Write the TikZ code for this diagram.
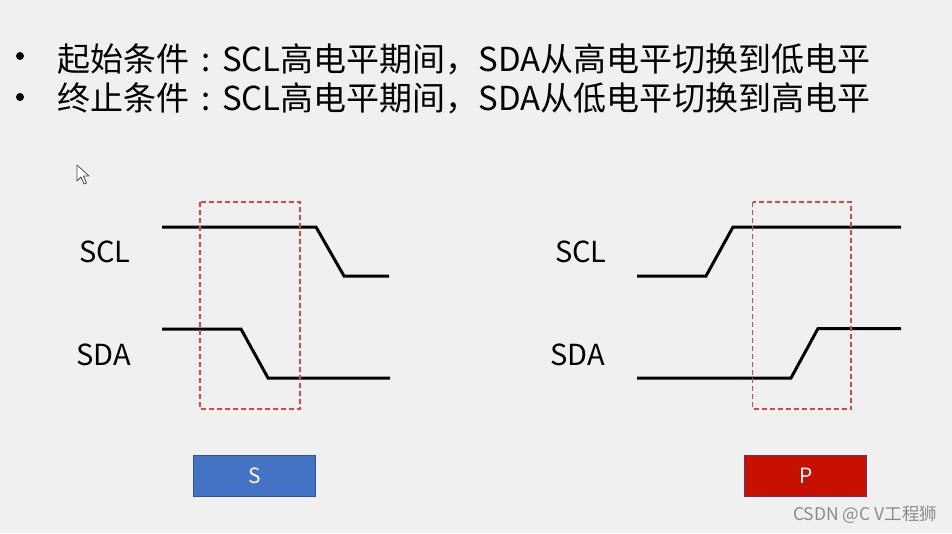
\documentclass[tikz,border=0pt]{standalone}
\usepackage{fontspec}
\setmainfont{Noto Sans CJK SC}
\usepackage{xcolor}
\usepackage{tikz}
\definecolor{bggray}{HTML}{F0F0F0}
\definecolor{sblue}{HTML}{4472C4}
\definecolor{sborder}{HTML}{2F5597}
\definecolor{pred}{HTML}{C81000}
\definecolor{pborder}{HTML}{6E3070}
\definecolor{boxred}{HTML}{E04545}
\newcommand{\midcolon}{\makebox[1em]{:}}
\tikzset{wave/.style={line width=3pt,line join=miter},
         window/.style={boxred,line width=1.2pt,dash pattern=on 5pt off 3pt},
         siglabel/.style={anchor=base west,inner sep=0pt,font=\fontsize{29}{29}\selectfont},
         bullettext/.style={anchor=base west,inner sep=0pt,font=\fontsize{33}{33}\selectfont},
         bulletdot/.style={circle,fill=black,inner sep=0pt,minimum size=8pt},
         condbox/.style={minimum width=122pt,minimum height=41pt,inner sep=0pt,line width=1pt,text=white,font=\fontsize{21}{21}\selectfont}}

\begin{document}
\begin{tikzpicture}[x=1pt,y=-1pt]
    \fill[bggray] (0,0) rectangle (952,533);
    \useasboundingbox (0,0) rectangle (952,533);

    % bullet lines
    \node[bulletdot] (b1) at (20,56) {};
    \node[bullettext] (t1) at (57,71.5) {起始条件\midcolon SCL高电平期间，SDA从高电平切换到低电平};
    \node[bulletdot] (b2) at (20,97) {};
    \node[bullettext] (t2) at (57,110.5) {终止条件\midcolon SCL高电平期间，SDA从低电平切换到高电平};

    % mouse pointer
    \draw[fill=white,draw=black!70,line width=0.8pt,line join=round]
        (77,165) -- (77,181) -- (81,177) -- (84,184) -- (86.5,183) -- (83.5,176) -- (89,176) -- cycle;

    % start condition
    \coordinate (A1) at (162,227);
    \coordinate (A2) at (316,227);
    \coordinate (A3) at (344,276);
    \coordinate (A4) at (389,276);
    \coordinate (B1) at (162,329);
    \coordinate (B2) at (241,329);
    \coordinate (B3) at (268,378);
    \coordinate (B4) at (390,378);

    \node[siglabel] (sclS) at (79,262.7) {SCL};
    \node[siglabel] (sdaS) at (76,365) {SDA};
    \draw[wave] (A1) -- (A2) -- (A3) -- (A4);
    \draw[wave] (B1) -- (B2) -- (B3) -- (B4);
    \draw[window] (200,202) rectangle (300,409);

    % stop condition
    \coordinate (C1) at (637,276);
    \coordinate (C2) at (706,276);
    \coordinate (C3) at (733,227);
    \coordinate (C4) at (901,227);
    \coordinate (D1) at (637,378);
    \coordinate (D2) at (791,378);
    \coordinate (D3) at (818,328.5);
    \coordinate (D4) at (901,328.5);

    \node[siglabel] (sclP) at (555,262.7) {SCL};
    \node[siglabel] (sdaP) at (550.5,365) {SDA};
    \draw[wave] (C1) -- (C2) -- (C3) -- (C4);
    \draw[wave] (D1) -- (D2) -- (D3) -- (D4);
    \draw[window] (752.5,202) rectangle (851,409);

    % S and P boxes
    \node[condbox,fill=sblue,draw=sborder] (start) at (254.5,476.2) {S};
    \node[condbox,fill=pred,draw=pborder] (stop) at (805.7,476.2) {P};

    \node[anchor=base west,inner sep=0pt,text=black!45,font=\fontsize{17.5}{17.5}\selectfont] (mark) at (793,520) {CSDN @C V工程狮};
\end{tikzpicture}
\end{document}
